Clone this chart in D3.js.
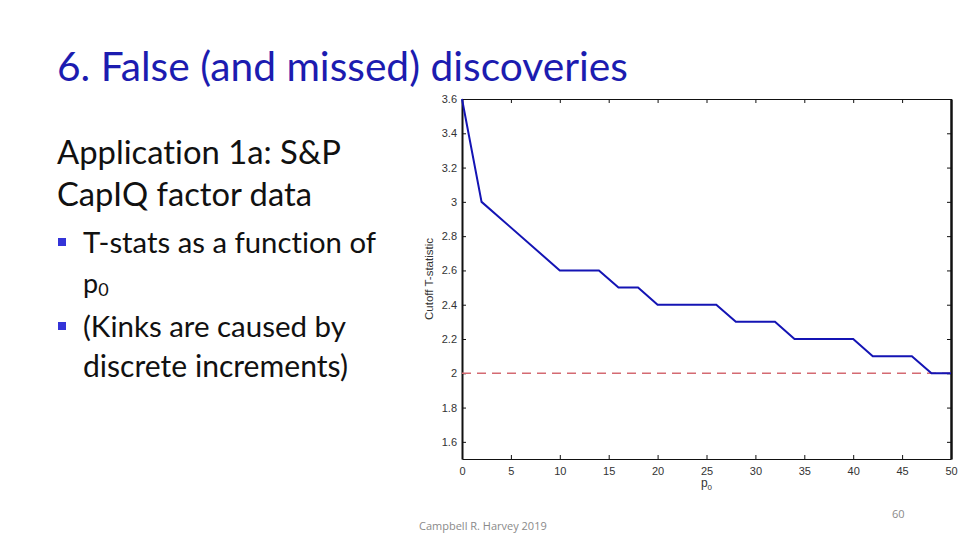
<!DOCTYPE html>
<html lang="en">
<meta charset="utf-8">
<title>False (and missed) discoveries</title>
<style>
	body { margin: 0; background: #fff; }
	.slide { font-family: "Lato", "Open Sans", sans-serif; font-variant-ligatures: none; }
	.title { fill: #1c1cb0; font-weight: 400; }
	.body { fill: #111; }
	.bullet { fill: #3434d8; }
	.axis text { font-family: "Liberation Sans", Arial, sans-serif; font-size: 11px; fill: #333; }
	.axis path, .axis line { stroke: #111; }
	.foot { font-family: "Open Sans", sans-serif; fill: #8a8a8a; font-size: 11px; }
</style>
<body>
<script src="https://cdn.jsdelivr.net/npm/d3@7"></script>
<svg class="slide"></svg>
<script>
// cutoff t-statistic vs p0
var p0 = [0, 2, 10, 14, 16, 18, 20, 26, 28, 32, 34, 40, 42, 46, 48, 50];
var tstat = [3.6, 3.0, 2.6, 2.6, 2.5, 2.5, 2.4, 2.4, 2.3, 2.3, 2.2, 2.2, 2.1, 2.1, 2.0, 2.0];
var refLine = 2;
var xTicks = [0, 5, 10, 15, 20, 25, 30, 35, 40, 45, 50];
var yTicks = [1.6, 1.8, 2, 2.2, 2.4, 2.6, 2.8, 3, 3.2, 3.4, 3.6];

var W = 960, H = 540;
var svg = d3.select(".slide").attr("width", W).attr("height", H);

// fit text to a measured width
function fit(sel, w) {
	var len = sel.node().getComputedTextLength();
	var fs = parseFloat(sel.attr("font-size"));
	sel.attr("font-size", (fs * w / len).toFixed(2));
}

fit(svg.append("text").attr("class", "title")
	.attr("x", 57).attr("y", 81).attr("font-size", 40)
	.text("6. False (and missed) discoveries"), 571);

var lines = [
	{x: 57, y: 164, t: "Application 1a: S&P", w: 284},
	{x: 57, y: 206, t: "CapIQ factor data", w: 255}
];
lines.forEach(function(l) {
	fit(svg.append("text").attr("class", "body")
		.attr("x", l.x).attr("y", l.y).attr("font-size", 30).text(l.t), l.w);
});

var bullets = [
	{y: 253, t: "T-stats as a function of", w: 293, b: true},
	{y: 337, t: "(Kinks are caused by", w: 263, b: true},
	{y: 377, t: "discrete increments)", w: 265, b: false}
];
bullets.forEach(function(l) {
	if (l.b) svg.append("rect").attr("class", "bullet")
		.attr("x", 58).attr("y", l.y - 15).attr("width", 8).attr("height", 8);
	fit(svg.append("text").attr("class", "body")
		.attr("x", 83).attr("y", l.y).attr("font-size", 30).text(l.t), l.w);
});
var pt = svg.append("text").attr("class", "body").attr("x", 83).attr("y", 293)
	.attr("font-size", 27);
pt.append("tspan").text("p");
pt.append("tspan").attr("font-size", 18).attr("dy", 3).text("0");

// chart
var margin = {top: 99, right: 9, bottom: 81, left: 462};
var width = W - margin.left - margin.right,
	height = H - margin.top - margin.bottom;
var g = svg.append("g").attr("transform", "translate(" + margin.left + "," + margin.top + ")");

var x = d3.scaleLinear().domain([0, 50]).range([0, width]);
var y = d3.scaleLinear().domain([1.5, 3.6]).range([height, 0]);

g.append("g").attr("class", "axis")
	.attr("transform", "translate(0," + height + ")")
	.call(d3.axisBottom(x).tickValues(xTicks).tickSizeInner(-4).tickSizeOuter(0).tickPadding(8))
	.call(function(a) { a.select(".domain").attr("stroke", "#aaa"); });
g.append("g").attr("class", "axis")
	.call(d3.axisTop(x).tickValues(xTicks).tickSizeInner(-4).tickSizeOuter(0).tickFormat(""));
g.append("g").attr("class", "axis")
	.call(d3.axisLeft(y).tickValues(yTicks).tickSizeInner(-4).tickSizeOuter(0).tickPadding(5).tickFormat(d3.format("")))
	.call(function(a) { a.select(".domain").attr("stroke-width", 2); });
g.append("g").attr("class", "axis")
	.attr("transform", "translate(" + width + ",0)")
	.call(d3.axisRight(y).tickValues(yTicks).tickSizeInner(-4).tickSizeOuter(0).tickFormat(""))
	.call(function(a) { a.select(".domain").attr("stroke-width", 2.5); });

g.append("line")
	.attr("x1", x(0)).attr("x2", x(50))
	.attr("y1", y(refLine)).attr("y2", y(refLine))
	.attr("stroke", "#d46a72").attr("stroke-width", 1.6).attr("stroke-dasharray", "9,6");

g.append("path")
	.datum(d3.zip(p0, tstat))
	.attr("fill", "none").attr("stroke", "#1414b4").attr("stroke-width", 2)
	.attr("d", d3.line().x(function(d) { return x(d[0]); }).y(function(d) { return y(d[1]); }));

g.append("text")
	.attr("transform", "translate(-29," + y(2.55) + ") rotate(-90)")
	.attr("text-anchor", "middle")
	.attr("font-family", "Liberation Sans, Arial, sans-serif")
	.attr("font-size", 11.5).attr("fill", "#333")
	.text("Cutoff T-statistic");

var xl = g.append("text")
	.attr("x", x(25)).attr("y", height + 28)
	.attr("text-anchor", "middle")
	.attr("font-family", "Liberation Sans, Arial, sans-serif")
	.attr("font-size", 12).attr("fill", "#333");
xl.append("tspan").text("p");
xl.append("tspan").attr("font-size", 8).attr("dy", 3).text("0");

svg.append("text").attr("class", "foot").attr("x", 419).attr("y", 530).text("Campbell R. Harvey 2019");
svg.append("text").attr("class", "foot").attr("x", 892).attr("y", 518).text("60");
</script>
</body>
</html>
